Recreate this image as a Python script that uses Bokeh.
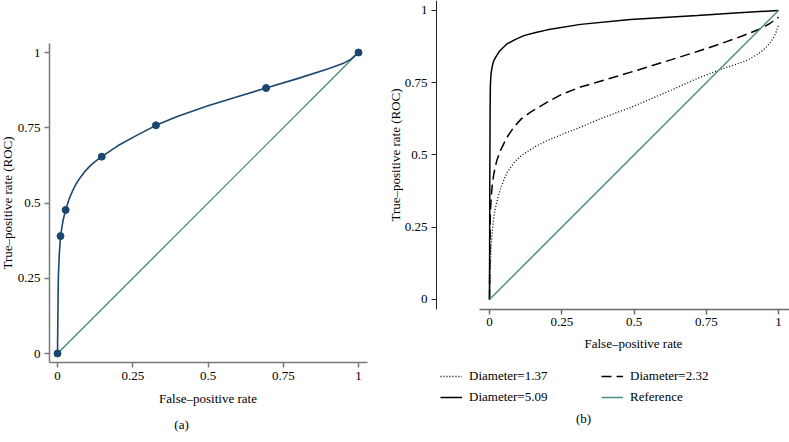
import math
from bokeh.plotting import figure
from bokeh.models import (Range1d, FixedTicker, Legend, LegendItem, Label, LinearAxis)
from bokeh.embed import file_html
from bokeh.resources import INLINE

# ---------------- data ----------------
tick_values = [0, 0.25, 0.5, 0.75, 1]
tick_labels = ["0", "0.25", "0.5", "0.75", "1"]

# panel (a): empirical ROC points and fitted curve
a_point_fpr = [0.0, 0.010, 0.027, 0.147, 0.327, 0.693, 1.0]
a_point_tpr = [0.0, 0.390, 0.477, 0.654, 0.758, 0.882, 1.0]
a_fit_fpr = [0.0, 0.001, 0.002, 0.003, 0.006, 0.010, 0.018, 0.027, 0.038, 0.050,
             0.062, 0.076, 0.092, 0.110, 0.128, 0.147, 0.200, 0.260, 0.327, 0.400,
             0.500, 0.600, 0.693, 0.800, 0.900, 0.950, 0.975, 1.0]
a_fit_tpr = [0.0, 0.100, 0.200, 0.260, 0.330, 0.390, 0.440, 0.477, 0.512, 0.540,
             0.564, 0.585, 0.606, 0.625, 0.640, 0.654, 0.690, 0.723, 0.758, 0.788,
             0.823, 0.854, 0.882, 0.914, 0.946, 0.964, 0.978, 1.0]
ref_fpr = [0.0, 1.0]
ref_tpr = [0.0, 1.0]

# panel (b): fitted ROC curves by diameter
d137_fpr = [0.0, 0.001, 0.003, 0.006, 0.010, 0.015, 0.021, 0.030, 0.040, 0.061,
            0.090, 0.119, 0.160, 0.200, 0.260, 0.315, 0.370, 0.430, 0.490, 0.546,
            0.630, 0.719, 0.776, 0.811, 0.850, 0.892, 0.930, 0.955, 0.975, 0.990, 1.0]
d137_tpr = [0.0, 0.050, 0.123, 0.190, 0.239, 0.285, 0.319, 0.355, 0.390, 0.440,
            0.480, 0.504, 0.530, 0.550, 0.575, 0.596, 0.620, 0.643, 0.665, 0.689,
            0.725, 0.765, 0.787, 0.800, 0.813, 0.828, 0.850, 0.870, 0.893, 0.920, 0.950]
d232_fpr = [0.0, 0.001, 0.003, 0.006, 0.010, 0.015, 0.025, 0.038, 0.060, 0.084,
            0.110, 0.142, 0.200, 0.250, 0.315, 0.430, 0.546, 0.630, 0.719, 0.800,
            0.870, 0.938, 0.970, 1.0]
d232_tpr = [0.0, 0.150, 0.300, 0.354, 0.400, 0.435, 0.480, 0.516, 0.560, 0.596,
            0.625, 0.648, 0.683, 0.710, 0.735, 0.769, 0.804, 0.830, 0.858, 0.885,
            0.910, 0.937, 0.955, 0.977]
d509_fpr = [0.0, 0.001, 0.002, 0.003, 0.005, 0.009, 0.014, 0.021, 0.035, 0.061,
            0.090, 0.119, 0.160, 0.200, 0.315, 0.488, 0.719, 0.850, 1.0]
d509_tpr = [0.0, 0.400, 0.650, 0.740, 0.780, 0.804, 0.825, 0.838, 0.860, 0.885,
            0.900, 0.913, 0.924, 0.933, 0.952, 0.969, 0.983, 0.991, 1.0]

legend_labels = ["Diameter=1.37", "Diameter=2.32", "Diameter=5.09", "Reference"]
x_title = "False\u2013positive rate"
y_title = "True\u2013positive rate (ROC)"
captions = ["(a)", "(b)"]

# ---------------- styling ----------------
FONT = "Liberation Serif"
FS_TICK = "13px"
FS_TEXT = "13px"
NAVY = "#1a476f"
GREEN = "#3f7f6f"
TEAL = "#4f8c80"

W, H = 789, 442

# One canvas holding both panels; each panel has its own ranges and axes.
p = figure(width=W, height=H, output_backend="svg", toolbar_location=None,
           x_range=Range1d(-0.18937, 2.43189), y_range=Range1d(-0.29568, 1.17276),
           x_axis_location=None, y_axis_location=None,
           min_border_left=0, min_border_right=0, min_border_top=0, min_border_bottom=0)
p.extra_x_ranges = {"b": Range1d(-1.69204, 1.03806)}
p.extra_y_ranges = {"b": Range1d(-0.49481, 1.03460)}
p.outline_line_color = None
p.xgrid.visible = False
p.ygrid.visible = False
p.background_fill_color = "white"
p.border_fill_color = "white"


def make_axis(rng, loc, bounds, color, width):
    ax = LinearAxis(x_range_name=rng, y_range_name=rng, fixed_location=loc, bounds=bounds)
    ax.ticker = FixedTicker(ticks=tick_values)
    ax.major_label_overrides = {v: t for v, t in zip(tick_values, tick_labels)}
    ax.minor_tick_line_color = None
    ax.major_tick_in = 0
    ax.major_tick_out = 5
    ax.axis_line_color = color
    ax.axis_line_width = width
    ax.major_tick_line_color = color
    ax.major_tick_line_width = width
    ax.major_label_text_font = FONT
    ax.major_label_text_font_size = FS_TICK
    ax.major_label_text_color = "black"
    ax.major_label_standoff = 4
    return ax


def add_label(rng, x, y, text, angle=0.0):
    p.add_layout(Label(x=x, y=y, x_range_name=rng, y_range_name=rng, text=text,
                       angle=angle, text_font=FONT, text_font_size=FS_TEXT,
                       text_color="black", text_align="center", text_baseline="middle"))


# ---------------- panel (a) ----------------
p.add_layout(make_axis("default", -0.0299, (-0.0266, 1.0299), "#7a7a7a", 1.5), "below")
p.add_layout(make_axis("default", -0.0266, (-0.0299, 1.0299), "#7a7a7a", 1.5), "left")
p.line(ref_fpr, ref_tpr, line_color=GREEN, line_width=1.2)
p.line(a_fit_fpr, a_fit_tpr, line_color=NAVY, line_width=1.6)
p.scatter(a_point_fpr, a_point_tpr, size=7, fill_color=NAVY, line_color=NAVY)
add_label("default", 0.5, -0.1495, x_title)
add_label("default", -0.1661, 0.5, y_title, angle=math.pi / 2)
add_label("default", 0.412, -0.2359, captions[0])

# ---------------- panel (b) ----------------
p.add_layout(make_axis("b", -0.0346, (-0.0346, 1.03806), "#6a6a6a", 1.5), "below")
p.add_layout(make_axis("b", -0.1834, (-0.0346, 1.0346), "#222222", 1.0), "left")

kw = dict(x_range_name="b", y_range_name="b")
r137 = p.line(d137_fpr, d137_tpr, line_color="black", line_width=1.3, line_dash="1 2", **kw)
r232 = p.line(d232_fpr, d232_tpr, line_color="black", line_width=1.5, line_dash="10 5", **kw)
r509 = p.line(d509_fpr, d509_tpr, line_color="black", line_width=1.5, **kw)
rref = p.line(ref_fpr, ref_tpr, line_color=TEAL, line_width=1.5, **kw)

add_label("b", 0.498, -0.1522, x_title)
add_label("b", -0.3253, 0.5, y_title, angle=math.pi / 2)
add_label("b", 0.3253, -0.4118, captions[1])


def make_legend(items, loc):
    return Legend(items=items, orientation="horizontal", location=loc,
                  margin=0, padding=0, spacing=5,
                  glyph_width=22, glyph_height=14, label_height=14, label_width=127,
                  label_standoff=7, label_text_font=FONT, label_text_font_size=FS_TEXT,
                  label_text_color="black",
                  border_line_color=None, background_fill_alpha=0)


p.add_layout(make_legend([LegendItem(label=legend_labels[0], renderers=[r137]),
                          LegendItem(label=legend_labels[1], renderers=[r232])], (440, 58)))
p.add_layout(make_legend([LegendItem(label=legend_labels[2], renderers=[r509]),
                          LegendItem(label=legend_labels[3], renderers=[rref])], (440, 37)))

open("out.html", "w").write(file_html(p, INLINE))
